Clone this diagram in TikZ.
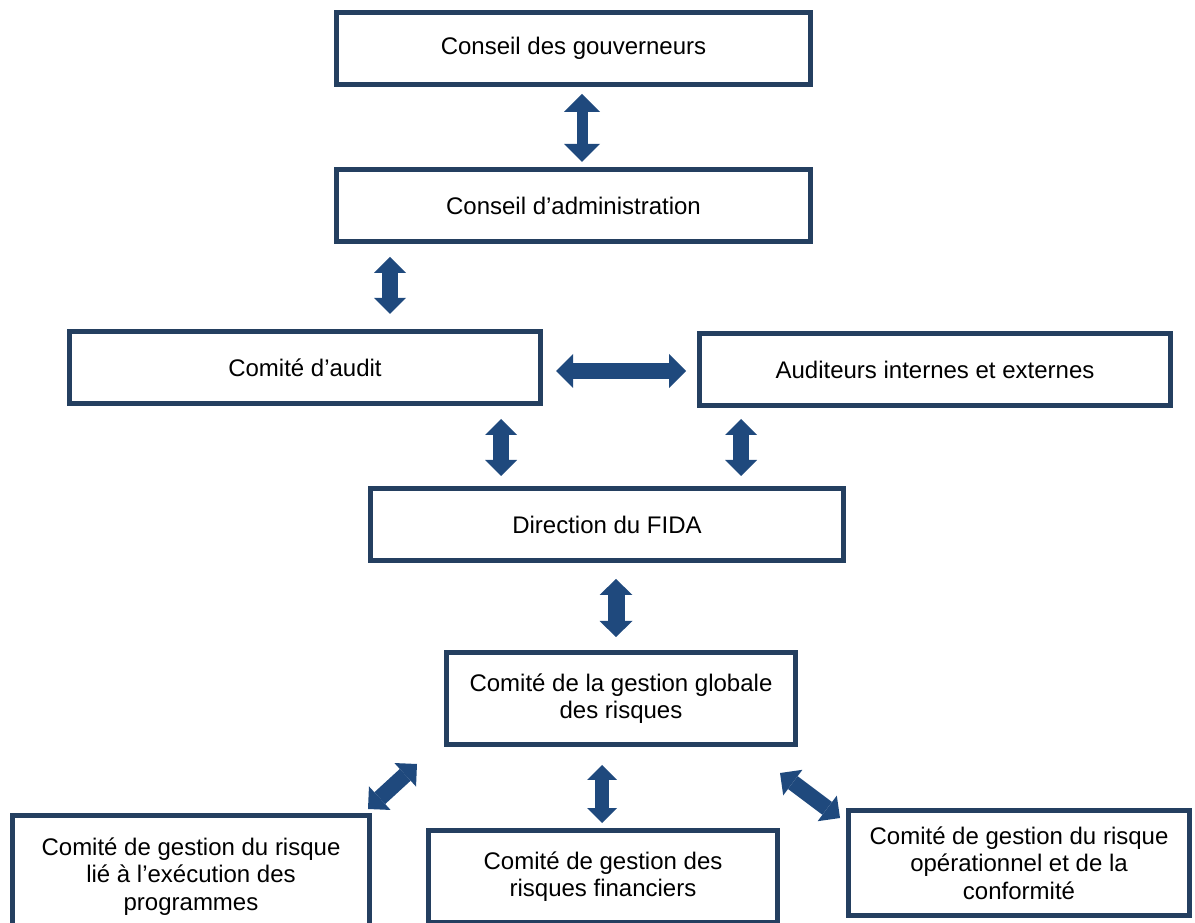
\documentclass[tikz,border=0pt]{standalone}
\usepackage{fontspec}
\setmainfont{Liberation Sans}
\usepackage{tikz}
\usetikzlibrary{arrows.meta}
\usepackage{xcolor}
\definecolor{boxline}{HTML}{243F60}
\definecolor{arrowblue}{HTML}{1F497D}

\begin{document}
\begin{tikzpicture}[x=1pt, y=1pt,
  box/.style={draw=boxline, line width=5pt, fill=white, align=center, inner sep=0pt,
    font=\fontsize{24}{27.6}\selectfont},
  link/.style n args={3}{draw=arrowblue, line width=#1,
    >={Triangle[width=#2,length=#3,line width=0pt]}, <->}]

\path[use as bounding box, clip] (0,0) rectangle (1195,922);

% les conseils
\node [box, minimum width=474, minimum height=72] (gouv) at (573.5,873.5) {Conseil des gouverneurs};
\node [box, minimum width=474, minimum height=72] (admin) at (573.5,716.5) {Conseil d’administration};

% audit
\node [box, minimum width=471, minimum height=72] (audit) at (305,554.5) {Comité d’audit};
\node [box, minimum width=471, minimum height=72] (aud) at (935,552.5) {Auditeurs internes et externes};

\node [box, minimum width=473, minimum height=72] (dir) at (607,397.5) {Direction du FIDA};
\node [box, minimum width=349, minimum height=92] (global) at (621,223.5) {Comité de la gestion globale\\des risques};

% les trois comités
\node [box, minimum width=357, minimum height=122] (prog) at (191,45.5)
  {Comité de gestion du risque\\lié à l’exécution des\\programmes};
\node [box, minimum width=349, minimum height=92] (fin) at (603,45.5)
  {Comité de gestion des\\risques financiers};
\node [box, minimum width=341, minimum height=105] (oper) at (1019,59)
  {Comité de gestion du risque\\opérationnel et de la\\conformité};

\draw [link={11pt}{36pt}{18pt}] ([xshift=8.5pt,yshift=-7pt]gouv.south) -- ([xshift=8.5pt,yshift=5pt]admin.north);
\draw [link={16pt}{32pt}{16pt}] ([xshift=-183.5pt,yshift=-13pt]admin.south) -- ([xshift=85pt,yshift=15pt]audit.north);
\draw [link={16pt}{34pt}{17pt}] ([xshift=13pt,yshift=-3.5pt]audit.east) -- ([xshift=-11pt,yshift=-1.5pt]aud.west);
\draw [link={16pt}{32pt}{16pt}] ([xshift=196pt,yshift=-13pt]audit.south) -- ([xshift=-106pt,yshift=10pt]dir.north);
\draw [link={16pt}{32pt}{16pt}] ([xshift=-194pt,yshift=-11pt]aud.south) -- ([xshift=134pt,yshift=10pt]dir.north);
\draw [link={17pt}{33pt}{16pt}] ([xshift=9pt,yshift=-16pt]dir.south) -- ([xshift=-5pt,yshift=13pt]global.north);

% vers les comités
\draw [link={16pt}{32pt}{16pt}] ([xshift=-204pt,yshift=-17pt]global.south) -- ([xshift=177pt,yshift=4pt]prog.north);
\draw [link={14pt}{30pt}{15pt}] ([xshift=-19pt,yshift=-18pt]global.south) -- ([xshift=-1pt,yshift=5pt]fin.north);
\draw [link={16pt}{32pt}{16pt}] ([xshift=159pt,yshift=-26pt]global.south) -- ([xshift=-179pt,yshift=-10pt]oper.north);

\end{tikzpicture}
\end{document}
